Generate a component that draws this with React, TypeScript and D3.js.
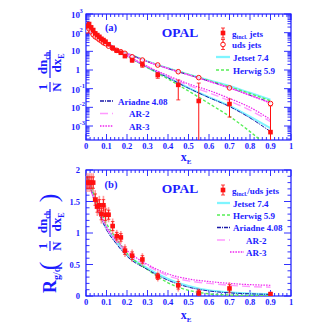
import * as d3 from "d3";
import React, { useEffect, useRef } from "react";

// bin centres of the measurement
const xBins = [0.005, 0.015, 0.025, 0.035, 0.045, 0.055, 0.065, 0.075, 0.085, 0.095, 0.11, 0.13, 0.15, 0.17, 0.19, 0.225, 0.275, 0.35, 0.45, 0.55, 0.7, 0.9];
const gluonVals = [225, 290, 192, 138, 92, 74, 60, 47, 40, 33, 24, 15.5, 10.8, 8.4, 5.6, 3.4, 2.0, 0.54, 0.16, 0.022, 0.015, 0.00047];
const gluonLo = [190, 250, 165, 118, 80, 64, 52, 41, 35, 29, 21, 13.5, 9.4, 7.2, 4.6, 2.6, 1.4, 0.36, 0.025, 1e-6, 0.003, 1e-6];
const gluonHi = [260, 335, 220, 160, 106, 85, 69, 54, 46, 38, 28, 17.8, 12.4, 9.8, 6.8, 4.3, 2.8, 0.72, 0.29, 0.2, 0.028, 0.012];
const udsVals = [125, 160, 110, 78, 60, 52, 42, 36, 29, 26, 19, 14.5, 11.3, 9.5, 7.8, 5.1, 3.4, 1.85, 0.81, 0.39, 0.11, 0.016];
const ratioVals = [1.8, 1.8, 1.8, 1.8, 1.53, 1.42, 1.44, 1.3, 1.44, 1.29, 1.29, 1.11, 0.95, 0.93, 0.72, 0.64, 0.58, 0.31, 0.17, 0.05, 0.12, 0.03];
const ratioErr = [0.15, 0.15, 0.15, 0.15, 0.15, 0.15, 0.15, 0.15, 0.15, 0.15, 0.12, 0.12, 0.1, 0.1, 0.1, 0.1, 0.1, 0.08, 0.1, 0.07, 0.1, 0.04];

// model curves
const xNodes = [0.005, 0.01, 0.02, 0.03, 0.05, 0.075, 0.1, 0.15, 0.2, 0.3, 0.4, 0.5, 0.6, 0.7, 0.8, 0.9];
const jetsetG = [230, 270, 240, 170, 95, 52, 31, 12.5, 5.8, 1.4, 0.4, 0.11, 0.035, 0.012, 0.0032, 0.00076];
const herwigG = [225, 265, 240, 172, 97, 53, 31, 12.6, 5.7, 1.35, 0.33, 0.075, 0.016, 0.0033, 0.0005, 0.00006];
const ariadneG = [228, 268, 238, 168, 94, 51, 30.5, 12.3, 5.7, 1.4, 0.39, 0.105, 0.033, 0.011, 0.0027, 0.0005];
const ar2G = [215, 255, 232, 168, 95, 53, 31.5, 12.8, 6.0, 1.5, 0.45, 0.15, 0.06, 0.022, 0.007, 0.0017];
const ar3G = [210, 250, 228, 166, 95, 53, 32, 13, 6.1, 1.55, 0.5, 0.18, 0.08, 0.03, 0.01, 0.0022];
const jetsetU = [150, 150, 130, 105, 65, 38, 24, 12, 7.8, 2.9, 1.25, 0.58, 0.28, 0.14, 0.06, 0.026];
const herwigU = [145, 148, 130, 104, 64, 38, 24, 12, 7.8, 2.9, 1.25, 0.58, 0.27, 0.125, 0.055, 0.022];
const ariadneU = [150, 150, 128, 103, 64, 37, 23.5, 11.8, 7.6, 2.8, 1.2, 0.55, 0.25, 0.11, 0.045, 0.018];
const ar2U = [148, 150, 128, 103, 64, 37, 23.5, 11.8, 7.6, 2.8, 1.2, 0.55, 0.25, 0.11, 0.044, 0.017];
const ar3U = [147, 149, 127, 102, 63, 37, 23.4, 11.7, 7.6, 2.8, 1.2, 0.55, 0.25, 0.11, 0.044, 0.017];
const jetsetR = [1.92, 1.88, 1.78, 1.65, 1.45, 1.25, 1.08, 0.85, 0.66, 0.44, 0.27, 0.16, 0.09, 0.06, 0.04, 0.03];
const herwigR = [1.85, 1.85, 1.8, 1.7, 1.5, 1.32, 1.15, 0.9, 0.68, 0.42, 0.21, 0.09, 0.035, 0.015, 0.008, 0.005];
const ariadneR = [1.9, 1.85, 1.75, 1.63, 1.42, 1.22, 1.05, 0.82, 0.63, 0.42, 0.25, 0.14, 0.08, 0.05, 0.035, 0.025];
const ar2R = [1.8, 1.78, 1.72, 1.62, 1.43, 1.25, 1.08, 0.86, 0.68, 0.48, 0.32, 0.24, 0.2, 0.17, 0.15, 0.14];
const ar3R = [1.75, 1.75, 1.7, 1.62, 1.45, 1.27, 1.1, 0.88, 0.72, 0.5, 0.35, 0.27, 0.23, 0.2, 0.18, 0.17];

const xTicks = ["0", "0.1", "0.2", "0.3", "0.4", "0.5", "0.6", "0.7", "0.8", "0.9", "1"];
const ratioTicks = ["0", "0.5", "1", "1.5", "2"];

const BLUE = "#1c1cff";
const RED = "#ff1010";
const FONT = "'Liberation Serif', 'DejaVu Serif', serif";

const styles = {
  jetset: { color: "#7ff5ff", width: 2, dash: null },
  herwig: { color: "#55ee55", width: 1.4, dash: "3,2" },
  ariadne: { color: "#1a1aa8", width: 1, dash: "4,1,1,1" },
  ar2: { color: "#ff99ff", width: 1.4, dash: "8,4" },
  ar3: { color: "#ee22ee", width: 1.2, dash: "1.5,1.2" },
};

const App = () => {
  const svgRef = useRef(null);
  const width = 327;
  const height = 333;
  const left = 86;
  const right = 291;

  useEffect(() => {
    const svg = d3.select(svgRef.current);
    svg.selectAll("*").remove();

    const x = d3.scaleLinear().domain([0, 1]).range([left, right]);
    const yTop = d3.scaleLog().domain([Math.pow(10, -3.75), 1000]).range([140, 14]);
    const yBot = d3.scaleLinear().domain([0, 2]).range([296, 170]);

    const defs = svg.append("defs");
    defs.append("clipPath").attr("id", "clipA").append("rect")
      .attr("x", left).attr("y", 14).attr("width", right - left).attr("height", 126);
    defs.append("clipPath").attr("id", "clipB").append("rect")
      .attr("x", left).attr("y", 170).attr("width", right - left).attr("height", 126);

    const txt = (g, px, py, s, size, anchor = "start") =>
      g.append("text").attr("x", px).attr("y", py).text(s)
        .attr("font-family", FONT).attr("font-weight", "bold")
        .attr("font-size", size).attr("fill", BLUE).attr("text-anchor", anchor);

    // frame + ticks
    const frame = (y, top, bottom, yMajor, yMinor) => {
      const g = svg.append("g");
      g.append("rect").attr("x", left).attr("y", top).attr("width", right - left)
        .attr("height", bottom - top).attr("fill", "none").attr("stroke", BLUE).attr("stroke-width", 1.2);
      const xs = d3.range(0, 51).map((i) => i / 50);
      xs.forEach((v, i) => {
        const len = i % 5 === 0 ? 6 : 3;
        g.append("line").attr("x1", x(v)).attr("x2", x(v)).attr("y1", bottom).attr("y2", bottom - len)
          .attr("stroke", BLUE).attr("stroke-width", 0.9);
        g.append("line").attr("x1", x(v)).attr("x2", x(v)).attr("y1", top).attr("y2", top + len)
          .attr("stroke", BLUE).attr("stroke-width", 0.9);
      });
      const tick = (v, len) => {
        g.append("line").attr("x1", left).attr("x2", left + len).attr("y1", y(v)).attr("y2", y(v))
          .attr("stroke", BLUE).attr("stroke-width", 0.9);
        g.append("line").attr("x1", right).attr("x2", right - len).attr("y1", y(v)).attr("y2", y(v))
          .attr("stroke", BLUE).attr("stroke-width", 0.9);
      };
      yMajor.forEach((v) => tick(v, 7));
      yMinor.forEach((v) => tick(v, 3.5));
      xTicks.forEach((s, i) => txt(g, x(i / 10), bottom + 8.5, s, 8.5, "middle"));
      return g;
    };

    const decades = d3.range(-3, 4);
    const logMinor = [];
    d3.range(-4, 3).forEach((e) => d3.range(2, 10).forEach((m) => {
      const v = m * Math.pow(10, e);
      if (v > Math.pow(10, -3.75)) logMinor.push(v);
    }));
    const gA = frame(yTop, 14, 140, decades.map((e) => Math.pow(10, e)), logMinor);
    decades.forEach((e) => {
      const py = yTop(Math.pow(10, e)) + 3;
      if (e === 0) txt(gA, 80, py, "1", 9, "end");
      else if (e === 1) txt(gA, 80, py, "10", 9, "end");
      else {
        txt(gA, 80, py + 1, "10", 9, "end");
        txt(gA, 79.5, py - 4, String(e), 6.5, "start");
      }
    });

    const gB = frame(yBot, 170, 296, [0, 0.5, 1, 1.5, 2], d3.range(0, 21).map((i) => i / 10).filter((v, i) => i % 5 !== 0));
    ratioTicks.forEach((s) => txt(gB, 80, yBot(+s) + 3, s, 8.5, "end"));

    // x titles
    [161, 319].forEach((py) => {
      const t = txt(svg, 186, py, "x", 12, "middle");
      t.append("tspan").text("E").attr("font-size", 7).attr("dy", 3);
    });

    // curves
    const drawCurve = (g, clip, ys, yScale, st) => {
      const pts = xNodes.map((v, i) => [v, ys[i]]);
      const line = d3.line().x((d) => x(d[0])).y((d) => yScale(d[1])).curve(d3.curveMonotoneX);
      const p = g.append("path").attr("d", line(pts)).attr("fill", "none")
        .attr("stroke", st.color).attr("stroke-width", st.width).attr("clip-path", `url(#${clip})`);
      if (st.dash) p.attr("stroke-dasharray", st.dash);
    };
    const curvesA = svg.append("g");
    [[jetsetU, styles.jetset], [herwigU, styles.herwig], [ariadneU, styles.ariadne], [ar2U, styles.ar2], [ar3U, styles.ar3],
      [jetsetG, styles.jetset], [herwigG, styles.herwig], [ariadneG, styles.ariadne], [ar2G, styles.ar2], [ar3G, styles.ar3]]
      .forEach(([ys, st]) => drawCurve(curvesA, "clipA", ys, yTop, st));
    const curvesB = svg.append("g");
    [[jetsetR, styles.jetset], [herwigR, styles.herwig], [ariadneR, styles.ariadne], [ar2R, styles.ar2], [ar3R, styles.ar3]]
      .forEach(([ys, st]) => drawCurve(curvesB, "clipB", ys, yBot, st));

    // data (a)
    const dA = svg.append("g").attr("clip-path", "url(#clipA)");
    xBins.forEach((v, i) => {
      const px = x(v);
      dA.append("line").attr("x1", px).attr("x2", px).attr("y1", yTop(gluonLo[i])).attr("y2", yTop(gluonHi[i]))
        .attr("stroke", RED).attr("stroke-width", 1);
      [gluonLo[i], gluonHi[i]].forEach((e) => dA.append("line").attr("x1", px - 2).attr("x2", px + 2)
        .attr("y1", yTop(e)).attr("y2", yTop(e)).attr("stroke", RED).attr("stroke-width", 0.8));
    });
    xBins.forEach((v, i) => {
      dA.append("circle").attr("cx", x(v)).attr("cy", yTop(udsVals[i])).attr("r", 2.3)
        .attr("fill", "white").attr("fill-opacity", 0.6).attr("stroke", RED).attr("stroke-width", 1);
    });
    xBins.forEach((v, i) => {
      dA.append("rect").attr("x", x(v) - 2.3).attr("y", yTop(gluonVals[i]) - 2.3).attr("width", 4.6).attr("height", 4.6)
        .attr("fill", RED);
    });

    // data (b)
    const dB = svg.append("g").attr("clip-path", "url(#clipB)");
    xBins.forEach((v, i) => {
      const px = x(v);
      const hw = v < 0.1 ? 0.005 : v < 0.2 ? 0.01 : 0.0;
      dB.append("line").attr("x1", px).attr("x2", px).attr("y1", yBot(ratioVals[i] - ratioErr[i])).attr("y2", yBot(ratioVals[i] + ratioErr[i]))
        .attr("stroke", "#ff7070").attr("stroke-width", 1.6).attr("opacity", 0.7);
      dB.append("line").attr("x1", px).attr("x2", px).attr("y1", yBot(ratioVals[i] - ratioErr[i] * 0.6)).attr("y2", yBot(ratioVals[i] + ratioErr[i] * 0.6))
        .attr("stroke", RED).attr("stroke-width", 0.9);
      [-0.6, 0.6].forEach((k) => dB.append("line").attr("x1", px - 1.8).attr("x2", px + 1.8)
        .attr("y1", yBot(ratioVals[i] + k * ratioErr[i])).attr("y2", yBot(ratioVals[i] + k * ratioErr[i]))
        .attr("stroke", RED).attr("stroke-width", 0.8));
      if (hw > 0) dB.append("line").attr("x1", x(v - hw)).attr("x2", x(v + hw)).attr("y1", yBot(ratioVals[i])).attr("y2", yBot(ratioVals[i]))
        .attr("stroke", "#ff7070").attr("stroke-width", 1);
    });
    xBins.forEach((v, i) => {
      dB.append("rect").attr("x", x(v) - 2.3).attr("y", yBot(ratioVals[i]) - 2.3).attr("width", 4.6).attr("height", 4.6)
        .attr("fill", RED);
    });

    // labels
    txt(svg, 111, 30.5, "(a)", 10.5, "middle");
    txt(svg, 180, 36.5, "OPAL", 13.5, "middle");
    txt(svg, 111, 188, "(b)", 10.5, "middle");
    txt(svg, 180, 192.5, "OPAL", 13.5, "middle");

    // legends
    const errMarker = (py, open) => {
      svg.append("line").attr("x1", 223).attr("x2", 223).attr("y1", py - 5).attr("y2", py + 5).attr("stroke", RED);
      [py - 5, py + 5].forEach((e) => svg.append("line").attr("x1", 221).attr("x2", 225).attr("y1", e).attr("y2", e).attr("stroke", RED).attr("stroke-width", 0.8));
      if (open) svg.append("circle").attr("cx", 223).attr("cy", py).attr("r", 2.3).attr("fill", "white").attr("stroke", RED);
      else svg.append("rect").attr("x", 220.7).attr("y", py - 2.3).attr("width", 4.6).attr("height", 4.6).attr("fill", RED);
    };
    const lineMarker = (x1, x2, py, st) => {
      const l = svg.append("line").attr("x1", x1).attr("x2", x2).attr("y1", py).attr("y2", py)
        .attr("stroke", st.color).attr("stroke-width", st.width + 0.3);
      if (st.dash) l.attr("stroke-dasharray", st.dash);
    };
    const LS = 9;
    errMarker(33, false);
    const t1 = txt(svg, 232, 36.5, "g", LS);
    t1.append("tspan").text("incl.").attr("font-size", 6).attr("dy", 2);
    t1.append("tspan").text(" jets").attr("dy", -2);
    errMarker(44.5, true);
    txt(svg, 232, 48, "uds jets", LS);
    lineMarker(216, 230, 57, styles.jetset);
    txt(svg, 233, 60.5, "Jetset 7.4", LS);
    lineMarker(216, 230, 70, styles.herwig);
    txt(svg, 233, 73.5, "Herwig 5.9", LS);
    lineMarker(100, 113, 101, styles.ariadne);
    txt(svg, 118, 104.5, "Ariadne 4.08", LS);
    lineMarker(100, 113, 113.5, styles.ar2);
    txt(svg, 129, 117, "AR-2", LS);
    lineMarker(100, 113, 126, styles.ar3);
    txt(svg, 129, 129.5, "AR-3", LS);

    errMarker(190, false);
    const t2 = txt(svg, 232, 193.5, "g", LS);
    t2.append("tspan").text("incl.").attr("font-size", 6).attr("dy", 2);
    t2.append("tspan").text("/uds jets").attr("dy", -2);
    lineMarker(217, 230, 203, styles.jetset);
    txt(svg, 233, 206.5, "Jetset 7.4", LS);
    lineMarker(217, 230, 215, styles.herwig);
    txt(svg, 233, 218.5, "Herwig 5.9", LS);
    lineMarker(217, 230, 227.5, styles.ariadne);
    txt(svg, 233, 231, "Ariadne 4.08", LS);
    lineMarker(217, 230, 240, styles.ar2);
    txt(svg, 246, 243.5, "AR-2", LS);
    lineMarker(230, 244, 252, styles.ar3);
    txt(svg, 246, 255.5, "AR-3", LS);

    // y titles (rotated)
    const frac = (g, cx, num, den) => {
      const n = txt(g, cx, -3, num[0], 13, "middle");
      if (num[1]) n.append("tspan").text(num[1]).attr("font-size", 8).attr("dy", 3);
      const d = txt(g, cx, 11, den[0], 13, "middle");
      if (den[1]) d.append("tspan").text(den[1]).attr("font-size", 8).attr("dy", 3);
    };
    const bar = (g, x1, x2) => g.append("line").attr("x1", x1).attr("x2", x2).attr("y1", 0).attr("y2", 0)
      .attr("stroke", BLUE).attr("stroke-width", 1.2);

    const tA = svg.append("g").attr("transform", "translate(50,70) rotate(-90)");
    frac(tA, -17, ["1"], ["N"]);
    bar(tA, -22, -12);
    frac(tA, 7, ["dn", "ch"], ["dx", "E"]);
    bar(tA, -8, 20);

    const tB = svg.append("g").attr("transform", "translate(50,243) rotate(-90)");
    const r = txt(tB, -50, 6, "R", 18);
    r.append("tspan").text("g/q").attr("font-size", 10).attr("dy", 4);
    txt(tB, -23, 7, "(", 26, "middle").attr("font-weight", "normal");
    frac(tB, -3, ["1"], ["N"]);
    bar(tB, -8, 2);
    frac(tB, 21, ["dn", "ch"], ["dx", "E"]);
    bar(tB, 6, 34);
    txt(tB, 45, 7, ")", 26, "middle").attr("font-weight", "normal");
  }, []);

  return <svg ref={svgRef} width={width} height={height} style={{ display: "block", margin: "-8px" }} />;
};

export default App;
